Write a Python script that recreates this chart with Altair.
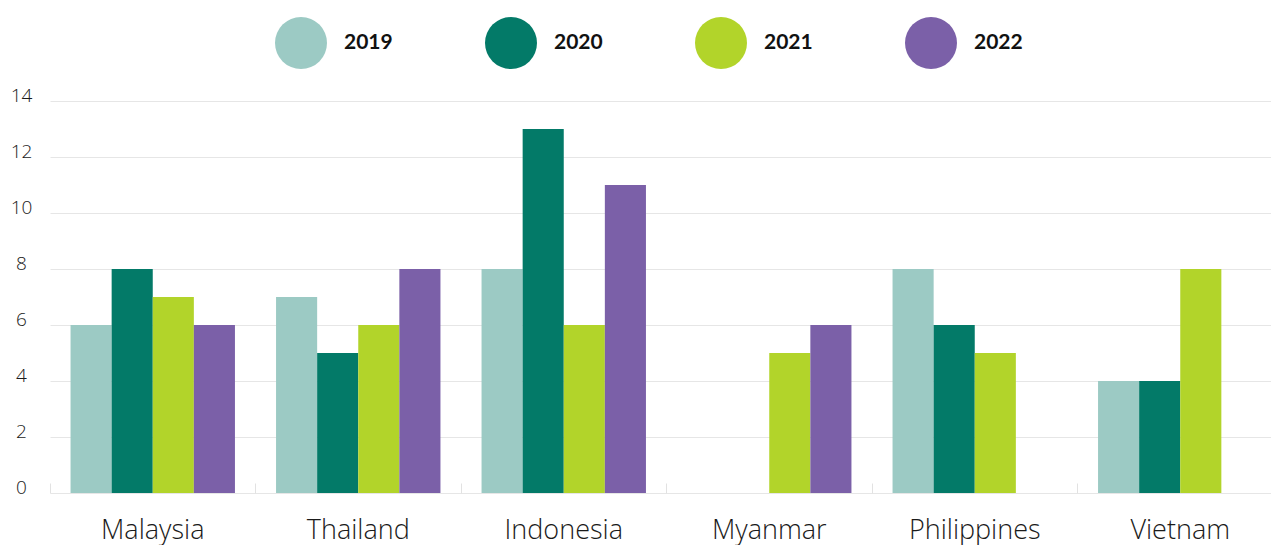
import altair as alt
import pandas as pd

countries = ["Malaysia", "Thailand", "Indonesia", "Myanmar", "Philippines", "Vietnam"]
years = ["2019", "2020", "2021", "2022"]
v2019 = [6, 7, 8, None, 8, 4]
v2020 = [8, 5, 13, None, 6, 4]
v2021 = [7, 6, 6, 5, 5, 8]
v2022 = [6, 8, 11, 6, None, None]
colors = ["#9ccac4", "#037a68", "#b2d42a", "#7b60a8"]
y_ticks = [0, 2, 4, 6, 8, 10, 12, 14]

rows = []
for yr, vals in zip(years, [v2019, v2020, v2021, v2022]):
    for c, v in zip(countries, vals):
        if v is not None:
            rows.append({"country": c, "year": yr, "value": v})
df = pd.DataFrame(rows)

AXFONT = "Open Sans"
LEGFONT = "Lato"

chart = alt.Chart(df).mark_bar().encode(
    x=alt.X(
        "country:N",
        sort=countries,
        scale=alt.Scale(domain=countries, range=[0, 1233], paddingInner=0, paddingOuter=0),
        axis=alt.Axis(
            title=None, labelAngle=0, domain=False, grid=False,
            ticks=True, tickSize=10, tickColor="#e2e2e2", tickWidth=1,
            bandPosition=0, offset=-10,
            labelFont=AXFONT, labelFontSize=27, labelFontWeight=300,
            labelColor="#1a1a1a", labelPadding=45, labelBaseline="alphabetic",
        ),
    ),
    xOffset=alt.XOffset(
        "year:N",
        scale=alt.Scale(domain=years, paddingInner=0, paddingOuter=0.5),
    ),
    y=alt.Y(
        "value:Q",
        scale=alt.Scale(domain=[0, 14], nice=False),
        axis=alt.Axis(
            title=None, values=y_ticks, domain=False, ticks=False, tickSize=0,
            labelAlign="center", labelBaseline="alphabetic", labelPadding=29,
            labelFont=AXFONT, labelFontSize=19, labelFontWeight=300, labelColor="#1a1a1a",
            gridColor="#e6e6e6", gridWidth=1,
        ),
    ),
    color=alt.Color(
        "year:N",
        scale=alt.Scale(domain=years, range=colors),
        legend=alt.Legend(
            title=None, orient="none", legendX=225, legendY=-84,
            direction="horizontal", symbolType="circle", symbolSize=2704,
            symbolStrokeWidth=0, symbolOpacity=1, padding=0,
            labelFont=LEGFONT, labelFontSize=21, labelFontWeight="bold",
            labelColor="#111111", labelOffset=17, columnPadding=92,
        ),
    ),
).properties(
    width=1221,
    height=392,
    autosize=alt.AutoSizeParams(type="none"),
    padding={"left": 50, "top": 101, "right": 0, "bottom": 52},
    background="white",
).configure_view(stroke=None)

chart.save("out.html", embed_options={"renderer": "svg", "actions": False})
